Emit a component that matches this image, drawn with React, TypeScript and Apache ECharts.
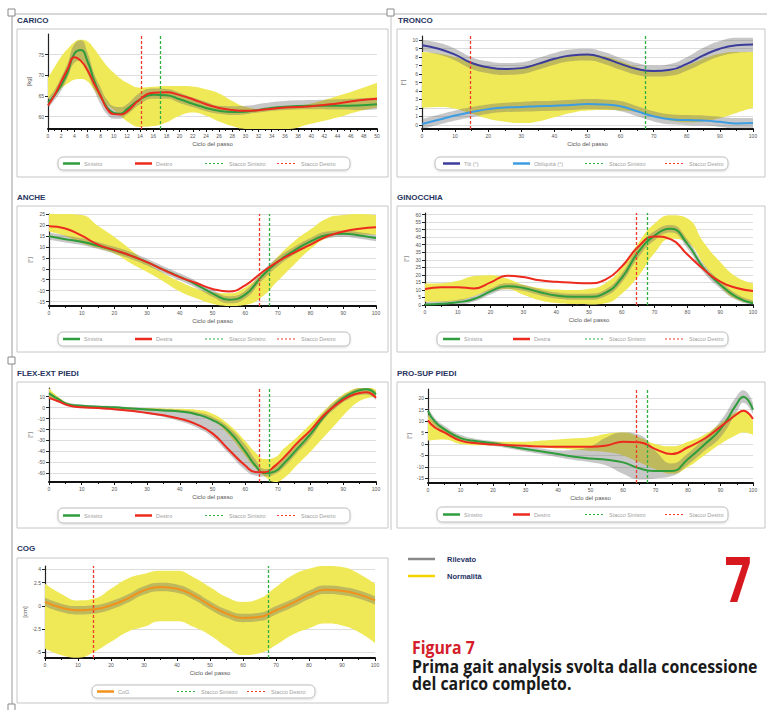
import React, { useEffect, useRef } from "react";
import * as echarts from "echarts";

// ---------------- DATA ----------------
// shared gait-cycle sample positions (% of the cycle)
const pct = [0, 5, 10, 15, 20, 25, 30, 35, 40, 45, 50, 55, 60, 65, 70, 75, 80, 85, 90, 95, 100];

// CARICO (kg) – x axis 0..50
const caricoX = [0, 1, 2, 3, 4, 5, 6, 7, 8, 9, 10, 11, 12, 14, 16, 18, 20, 22, 24, 26, 28, 30, 33, 36, 40, 44, 47, 50];
const caricoSin = [63.4, 65.2, 67.6, 70.8, 75.2, 76.1, 73.4, 68.8, 65, 62.2, 60.9, 60.7, 61.8, 64.2, 65.3, 65.2, 64.2, 63.1, 62.1, 61.4, 61.1, 61.2, 61.9, 62.4, 62.6, 62.6, 62.7, 63];
const caricoDes = [62.7, 65.2, 68.4, 71.6, 74.4, 73.5, 71.2, 68, 65, 61.8, 60.6, 60.5, 61.2, 64.2, 65.8, 65.9, 65.2, 64.2, 63, 62.1, 61.6, 61.4, 61.7, 62.2, 62.5, 63.2, 63.9, 64.3];
const caricoNormHi = [69.4, 72, 74.5, 76.4, 78, 78.6, 78.2, 76.5, 74.3, 72.2, 70.6, 69.2, 68.2, 67, 67.2, 67.4, 67.4, 67.3, 66.6, 65.6, 63.8, 62.4, 61.8, 62.2, 63.2, 65, 66.5, 68.2];
const caricoNormLo = [64.2, 65.4, 66.8, 68, 68.9, 69.1, 68.5, 66.5, 64.2, 62.8, 61.6, 60.2, 58.9, 57.5, 57.7, 58.6, 60.2, 61, 60.2, 58.8, 57.7, 57, 57, 57, 58.3, 59.8, 61.2, 62.2];
const caricoRilLo = [62, 64, 66.3, 69.5, 73, 73.5, 70.5, 66.5, 63, 60.5, 59.5, 59.5, 60.5, 63, 64.3, 64.3, 63.3, 62.3, 61.3, 60.7, 60.4, 60.6, 61.2, 61.6, 61.8, 61.7, 61.6, 61.8];
const caricoRilHi = [64.5, 66.5, 69.5, 73, 77.5, 78.5, 75.5, 70.5, 67, 64, 62.5, 62.3, 63, 65.8, 66.8, 66.7, 65.8, 64.6, 63.6, 62.6, 62.5, 62.6, 63.3, 63.8, 64, 64.2, 64.4, 64.6];
const caricoStacchi = [14.1, 17.1];
const caricoYTicks = [60, 65, 70, 75];

// TRONCO (deg)
const troncoTilt = [9.4, 9.0, 8.3, 7.3, 6.8, 6.6, 6.7, 7.2, 7.8, 8.2, 8.3, 7.9, 7.2, 6.6, 6.35, 6.5, 7.2, 8.2, 9.0, 9.4, 9.5];
const troncoTiltLo = [8.7, 8.3, 7.6, 6.6, 6.1, 5.9, 6.0, 6.5, 7.1, 7.5, 7.6, 7.2, 6.5, 5.9, 5.7, 5.8, 6.4, 7.3, 8.1, 8.5, 8.6];
const troncoTiltHi = [10.0, 9.7, 9.0, 8.0, 7.5, 7.3, 7.4, 7.9, 8.5, 8.9, 9.0, 8.6, 7.9, 7.3, 7.0, 7.2, 8.0, 9.1, 9.9, 10.3, 10.3];
const troncoObl = [0.1, 0.6, 1.1, 1.5, 1.85, 2.05, 2.1, 2.2, 2.25, 2.35, 2.45, 2.4, 2.2, 1.6, 1.0, 0.65, 0.55, 0.5, 0.35, 0.15, 0.2];
const troncoOblLo = [-0.5, 0.0, 0.5, 0.9, 1.3, 1.5, 1.55, 1.6, 1.65, 1.75, 1.85, 1.8, 1.6, 1.0, 0.4, 0.05, -0.05, -0.1, -0.25, -0.45, -0.4];
const troncoOblHi = [0.7, 1.2, 1.7, 2.1, 2.4, 2.6, 2.7, 2.8, 2.85, 2.95, 3.05, 3.0, 2.8, 2.2, 1.6, 1.25, 1.15, 1.1, 0.95, 0.8, 0.8];
const troncoNormHi = [8.6, 8.4, 8.0, 7.4, 6.9, 6.7, 6.8, 7.3, 7.9, 8.2, 8.3, 8.1, 7.5, 6.8, 6.3, 6.4, 7.0, 7.8, 8.4, 8.6, 8.6];
const troncoNormLo = [2.0, 2.1, 1.9, 1.3, 0.7, 0.35, 0.2, 0.4, 0.9, 1.4, 1.7, 1.75, 1.7, 1.5, 1.0, 0.5, 0.3, 0.4, 0.8, 1.4, 2.0];
const troncoStacchi = [14.6, 67.3];
const troncoYTicks = [0, 1, 2, 3, 4, 5, 6, 7, 8, 9, 10];

// ANCHE (deg)
const ancheSin = [14.8, 13.5, 12.3, 10.5, 8.4, 6, 3, -0.4, -3.7, -7.2, -11.2, -14.1, -11.8, -3.6, 3.2, 8.3, 12.5, 15.4, 16, 15.2, 14];
const ancheDes = [19.4, 18.4, 15.1, 11, 8.5, 6, 3, -0.5, -3.8, -6.5, -9.2, -10.4, -7.6, -1.8, 3.3, 7.4, 11, 14.8, 17, 18.3, 18.9];
const ancheNormHi = [25, 25, 24.5, 19.5, 14.5, 8.7, 2.7, -2, -5.8, -9, -10.8, -11.2, -8.5, -2.5, 5.6, 12.6, 18, 23, 24.5, 25, 24.5];
const ancheNormLo = [17, 15, 11.8, 9.5, 7, 2.5, -1.5, -5.8, -10.4, -13.5, -16, -17, -16.5, -13, -5.5, 2, 9, 14, 15.5, 15.5, 15.5];
const ancheRilLo = [13.2, 12, 10.8, 9, 6.9, 4.5, 1.5, -2, -5.3, -8.8, -12.8, -15.8, -13.6, -5.6, 1.2, 6.5, 10.9, 13.8, 14.5, 13.7, 12.5];
const ancheRilHi = [16.5, 15.2, 13.9, 12.1, 10, 7.6, 4.6, 1.2, -2.1, -5.6, -9.6, -12.5, -10, -1.6, 5.2, 10.1, 14.1, 17, 17.5, 16.7, 15.5];
const ancheStacchi = [64.4, 67.4];
const ancheYTicks = [-15, -10, -5, 0, 5, 10, 15, 20, 25];

// GINOCCHIA (deg)
const ginoSin = [0.4, 0.8, 1.8, 4, 9, 12.5, 11.3, 8.5, 6.3, 5.5, 5.5, 8, 18, 35, 46, 50.5, 40.5, 24.3, 13.5, 5.3, 1.1];
const ginoDes = [10.6, 11.7, 11.8, 11, 15, 19.4, 18.5, 16.4, 15.4, 14.8, 14.5, 16.8, 25.5, 38.6, 45.5, 43.5, 33.5, 23.5, 15.5, 11.3, 9.3];
const ginoNormHi = [14.3, 14.5, 16, 19.2, 19.8, 17.5, 13.5, 11.3, 10.2, 9.9, 10.7, 14.5, 24.5, 41, 54, 59.5, 57.4, 41.5, 28.5, 18.5, 14.3];
const ginoNormLo = [2.2, 2.2, 2.8, 6, 9.5, 10.5, 6.8, 3.1, 1.3, 0.6, 0.4, 1.2, 7.5, 19, 34.5, 44, 41.5, 27, 12.5, 3.8, 1.1];
const ginoRilLo = [0, 0, 0.3, 2.3, 7, 10.5, 9.3, 6.5, 4.3, 3.5, 3.5, 5.8, 15, 31.5, 43, 48, 37.5, 21.5, 11, 3.3, 0];
const ginoRilHi = [2, 2.5, 3.5, 6, 11, 14.5, 13.3, 10.5, 8.3, 7.5, 7.5, 10.2, 21, 38.5, 49, 53, 43.5, 27, 16, 7.3, 3];
const ginoStacchi = [64.4, 67.7];
const ginoYTicks = [0, 5, 10, 15, 20, 25, 30, 35, 40, 45, 50, 55, 60];

// FLEX-EXT PIEDI (deg)
const flexX = [0, 3, 6, 10, 15, 20, 25, 30, 35, 40, 45, 50, 55, 60, 63, 66, 69, 72, 76, 80, 84, 88, 92, 95, 97, 100];
const flexSin = [13.1, 7.5, 3, 1.8, 0.9, 0.3, -0.8, -1.6, -2.6, -3.6, -6, -11.3, -21.5, -40, -52.5, -60, -58.5, -50.5, -37.5, -24, -8.7, 4, 12.5, 16, 16.8, 12.2];
const flexDes = [9, 5.6, 2, 0.4, -0.3, -1.5, -2.9, -4.8, -7, -10.2, -15, -23.5, -38.5, -53, -58.8, -59, -53.5, -45, -32, -20.5, -7.1, 3, 10.5, 13.5, 14, 9];
const flexNormHi = [17.8, 9.5, 4, 1.5, 0.7, 0.3, 0, -0.4, -0.7, -1, -1.8, -5.5, -15.5, -30.5, -40.5, -47, -45.5, -37, -26.5, -15, -3, 8, 15.5, 18.5, 19.3, 16.2];
const flexNormLo = [8.4, 5, 2, 0.7, -0.2, -0.9, -1.7, -2.5, -3.2, -4, -5.5, -11.5, -25, -44, -55, -63, -68, -64, -52, -40, -27, -14, -1, 6, 8.5, 10];
const flexRilLo = [8, 5, 1.5, -0.5, -1.2, -2.3, -3.8, -5.8, -8.5, -12.5, -18, -27, -42, -57, -62, -63, -61, -54, -41, -28, -11, 0.5, 8.5, 11.5, 12, 7];
const flexRilHi = [15, 9, 4.5, 3, 2, 1.5, 0.5, -0.2, -1, -2, -4, -8.5, -18, -34, -47, -56, -54, -46, -33, -19.5, -4.5, 7, 14.5, 18, 18.5, 14.5];
const flexStacchi = [64.4, 67.4];
const flexYTicks = [-60, -50, -40, -30, -20, -10, 0, 10];

// PRO-SUP PIEDI (deg)
const proX = [0, 2, 5, 10, 15, 20, 25, 30, 35, 40, 45, 50, 55, 60, 65, 70, 75, 80, 85, 90, 95, 97, 100];
const proSin = [14.5, 10, 6.5, 2.6, 1.2, 0.3, -1, -2.2, -3.3, -4.4, -5.5, -6.3, -6.9, -8, -10.6, -11.8, -11.8, -6.5, -0.3, 6.5, 17.5, 20.6, 15];
const proDes = [10.3, 7.3, 5.1, 1.5, 0.3, -0.2, -0.5, -0.8, -1.1, -1.2, -1.2, -1.2, -0.6, 1, 0.8, -2.2, -4.4, -1.4, 2.3, 7.5, 13, 14.5, 10.9];
const proNormHi = [13, 9.5, 7, 3.2, 1.5, 1, 1, 1, 1.5, 2, 2.5, 3, 4.5, 5, 3, 0, -1, 1, 4, 9, 14, 14.5, 10];
const proNormLo = [1.5, 1.8, 2, 0, -0.5, -0.5, -0.8, -1, -1.5, -2, -2.5, -3, -3.5, -5, -8, -11, -13, -10, -5, 0, 4, 5, 4];
const proRilLo = [12, 8, 5, 1.5, 0, -0.8, -2, -3.3, -4.5, -5.8, -7, -8, -9.5, -13, -15.5, -15, -14, -9, -3, 3, 14, 18, 13];
const proRilHi = [16, 11.5, 8, 4, 2.2, 1.3, 0, -1, -2, -2.8, -2.5, -1, 3, 5, 4, -3, -8.5, -4, 2.5, 10, 21, 23.5, 18];
const proStacchi = [64.1, 67.5];
const proYTicks = [-15, -10, -5, 0, 5, 10, 15, 20];

// COG (cm)
const cogVal = [0.43, -0.2, -0.46, -0.36, 0.07, 0.79, 1.68, 2.04, 1.86, 1.14, 0.07, -0.82, -1.29, -1.18, -0.46, 0.3, 1.2, 1.75, 1.62, 1.25, 0.6];
const cogRilLo = [-0.02, -0.65, -0.91, -0.81, -0.38, 0.34, 1.23, 1.59, 1.41, 0.69, -0.38, -1.27, -1.74, -1.63, -0.91, -0.15, 0.75, 1.3, 1.17, 0.8, 0.15];
const cogRilHi = [0.88, 0.25, -0.01, 0.09, 0.52, 1.24, 2.13, 2.49, 2.31, 1.59, 0.52, -0.37, -0.84, -0.73, -0.01, 0.75, 1.65, 2.2, 2.07, 1.7, 1.05];
const cogNormHi = [2.4, 1.3, 0.6, 0.8, 1.86, 2.93, 3.46, 3.8, 3.8, 3.1, 2.04, 0.96, 0.43, 0.79, 2.04, 3.3, 4, 4.3, 4.2, 3.5, 2.4];
const cogNormLo = [-4.57, -5.3, -5.57, -4.93, -3.86, -2.79, -2.25, -1.64, -1.64, -2.25, -3.14, -4.39, -5.29, -5.1, -4.2, -3.1, -2.4, -1.9, -2.1, -2.8, -4];
const cogStacchi = [14.6, 67.7];
const cogYTicks = [-5, -2.5, 0, 2.5, 4];

// ---------------- STYLE ----------------
const GREEN = "#2f9d3c";
const RED = "#ec2a1e";
const NAVY = "#3c3c9a";
const SKY = "#3d9de2";
const ORANGE = "#f0921c";
const YELLOW = "#efe958";
const GRAY = "rgba(100,100,100,0.36)";
const RED_D = "#ee3b2c";
const GREEN_D = "#2fae42";
const FONT = "Liberation Sans, Arial, sans-serif";

const LEFT_OFF = [5, 77, 147, 219];
const RIGHT_OFF = [6, 76, 148, 228];

const stdItems = (a: string, b: string, ca: string, cb: string) => [
  { color: ca, dashed: false, label: a },
  { color: cb, dashed: false, label: b },
  { color: GREEN_D, dashed: true, label: "Stacco Sinistro" },
  { color: RED_D, dashed: true, label: "Stacco Destro" },
];

const panels: any[] = [
  {
    title: "CARICO", titleX: 17, titleY: 20, frame: [17, 29, 371, 148], grid: [48, 34, 329, 95],
    xMax: 50, xInterval: 2, yMin: 57, yMax: 80, yTicks: caricoYTicks, yName: "[kg]",
    xs: caricoX, norm: [caricoNormLo, caricoNormHi], ril: [[caricoRilLo, caricoRilHi]],
    lines: [{ name: "Sinistro", data: caricoSin, color: GREEN }, { name: "Destro", data: caricoDes, color: RED }],
    stacchi: caricoStacchi, legendBox: [58, 157, 292, 13], legendOff: LEFT_OFF,
    legendItems: stdItems("Sinistro", "Destro", GREEN, RED),
  },
  {
    title: "TRONCO", titleX: 398, titleY: 20, frame: [397, 29, 368, 148], grid: [422, 36, 331, 93],
    xMax: 100, xInterval: 10, yMin: -0.5, yMax: 10.5, yTicks: troncoYTicks, yName: "[°]",
    xs: pct, norm: [troncoNormLo, troncoNormHi], ril: [[troncoTiltLo, troncoTiltHi], [troncoOblLo, troncoOblHi]],
    lines: [{ name: "Tilt", data: troncoTilt, color: NAVY }, { name: "Obliquità", data: troncoObl, color: SKY }],
    stacchi: troncoStacchi, legendBox: [435, 157, 293, 13], legendOff: [8, 78, 150, 230],
    legendItems: stdItems("Tilt (°)", "Obliquità (°)", NAVY, SKY),
  },
  {
    title: "ANCHE", titleX: 17, titleY: 197, frame: [17, 206, 371, 146], grid: [49, 214, 327, 92],
    xMax: 100, xInterval: 10, yMin: -17, yMax: 25, yTicks: ancheYTicks, yName: "[°]",
    xs: pct, norm: [ancheNormLo, ancheNormHi], ril: [[ancheRilLo, ancheRilHi]],
    lines: [{ name: "Sinistra", data: ancheSin, color: GREEN }, { name: "Destra", data: ancheDes, color: RED }],
    stacchi: ancheStacchi, legendBox: [58, 332, 292, 14], legendOff: LEFT_OFF,
    legendItems: stdItems("Sinistra", "Destra", GREEN, RED),
  },
  {
    title: "GINOCCHIA", titleX: 397, titleY: 197, frame: [397, 206, 368, 146], grid: [425, 213, 328, 92],
    xMax: 100, xInterval: 10, yMin: 0, yMax: 61, yTicks: ginoYTicks, yName: "[°]",
    xs: pct, norm: [ginoNormLo, ginoNormHi], ril: [[ginoRilLo, ginoRilHi]],
    lines: [{ name: "Sinistra", data: ginoSin, color: GREEN }, { name: "Destra", data: ginoDes, color: RED }],
    stacchi: ginoStacchi, legendBox: [437, 332, 291, 14], legendOff: RIGHT_OFF,
    legendItems: stdItems("Sinistra", "Destra", GREEN, RED),
  },
  {
    title: "FLEX-EXT PIEDI", titleX: 17, titleY: 373, frame: [17, 382, 371, 146], grid: [49, 388, 327, 94],
    xMax: 100, xInterval: 10, yMin: -68, yMax: 18, yTicks: flexYTicks, yName: "[°]",
    xs: flexX, norm: [flexNormLo, flexNormHi], ril: [[flexRilLo, flexRilHi]],
    lines: [{ name: "Sinistro", data: flexSin, color: GREEN }, { name: "Destro", data: flexDes, color: RED }],
    stacchi: flexStacchi, legendBox: [58, 508, 292, 15], legendOff: LEFT_OFF,
    legendItems: stdItems("Sinistro", "Destro", GREEN, RED),
  },
  {
    title: "PRO-SUP PIEDI", titleX: 397, titleY: 373, frame: [397, 382, 368, 146], grid: [428, 389, 325, 94],
    xMax: 100, xInterval: 10, yMin: -17, yMax: 24, yTicks: proYTicks, yName: "[°]",
    xs: proX, norm: [proNormLo, proNormHi], ril: [[proRilLo, proRilHi]],
    lines: [{ name: "Sinistro", data: proSin, color: GREEN }, { name: "Destro", data: proDes, color: RED }],
    stacchi: proStacchi, legendBox: [437, 507, 291, 15], legendOff: RIGHT_OFF,
    legendItems: stdItems("Sinistro", "Destro", GREEN, RED),
  },
  {
    title: "COG", titleX: 17, titleY: 548, frame: [17, 558, 371, 145], grid: [45, 566, 330, 92],
    xMax: 100, xInterval: 10, yMin: -5.6, yMax: 4.3, yTicks: cogYTicks, yName: "[cm]",
    xs: pct, norm: [cogNormLo, cogNormHi], ril: [[cogRilLo, cogRilHi]],
    lines: [{ name: "CoG", data: cogVal, color: ORANGE }],
    stacchi: cogStacchi, legendBox: [92, 685, 223, 13], legendOff: [5, 85, 155],
    legendItems: [
      { color: ORANGE, dashed: false, label: "CoG" },
      { color: GREEN_D, dashed: true, label: "Stacco Sinistro" },
      { color: RED_D, dashed: true, label: "Stacco Destro" },
    ],
  },
];

// ---------------- OPTION ----------------
function band(i: number, key: string, xs: number[], lo: number[], hi: number[], color: string, z: number) {
  const base: any = {
    type: "line", xAxisIndex: i, yAxisIndex: i, stack: key, stackStrategy: "all",
    symbol: "none", showSymbol: false, smooth: 0.5, silent: true, z,
    lineStyle: { width: 0, opacity: 0 }, encode: { x: 1, y: 0 },
  };
  return [
    { ...base, name: key + "_lo", data: xs.map((x, k) => [lo[k], x]) },
    { ...base, name: key, data: xs.map((x, k) => [hi[k] - lo[k], x]), areaStyle: { color, opacity: 1 } },
  ];
}

function stacco(i: number, x: number, yMin: number, color: string) {
  return {
    type: "line", name: "stacco", xAxisIndex: i, yAxisIndex: i, z: 4, silent: true,
    symbol: "none", showSymbol: false, data: [[x, yMin]],
    lineStyle: { color, width: 0, opacity: 0 },
    markLine: {
      silent: true, symbol: ["none", "none"], label: { show: false },
      lineStyle: { color, type: [3, 2], width: 1.3, opacity: 1 },
      emphasis: { disabled: true },
      data: [{ xAxis: x }],
    },
  };
}

const txt = (x: number, y: number, text: string, extra: any) => ({
  type: "text", x, y,
  style: { text, align: "left", verticalAlign: "middle", textAlign: "left", textVerticalAlign: "middle", fontFamily: FONT, ...extra },
});

function buildOption() {
  const grid: any[] = [];
  const xAxis: any[] = [];
  const yAxis: any[] = [];
  const series: any[] = [];
  const elements: any[] = [];

  // page decorations
  elements.push({ type: "line", shape: { x1: 12, y1: 14, x2: 767, y2: 14 }, style: { stroke: "#b0b0b0", lineWidth: 1 } });
  elements.push({ type: "line", shape: { x1: 12, y1: 14, x2: 12, y2: 710 }, style: { stroke: "#9a9a9a", lineWidth: 1 } });
  elements.push({ type: "line", shape: { x1: 391, y1: 14, x2: 391, y2: 530 }, style: { stroke: "#c4c4c4", lineWidth: 1 } });
  [[8, 9], [387, 9], [8, 357], [8, 704]].forEach(([x, y]) =>
    elements.push({ type: "rect", shape: { x, y, width: 7, height: 7 }, style: { fill: "#fff", stroke: "#888", lineWidth: 1 } })
  );

  panels.forEach((p, i) => {
    const [gl, gt, gw, gh] = p.grid;
    grid.push({ left: gl, top: gt, width: gw, height: gh });
    xAxis.push({
      gridIndex: i, type: "value", min: 0, max: p.xMax, interval: p.xInterval,
      axisLine: { onZero: false, lineStyle: { color: "#111", width: 2 } },
      axisTick: { show: true, length: 3, lineStyle: { color: "#111", width: 1 } },
      minorTick: { show: true, splitNumber: 2, length: 2, lineStyle: { color: "#111", width: 1 } },
      axisLabel: { fontSize: 5, color: "#555", margin: 4, fontFamily: FONT },
      splitLine: { show: false },
      name: "Ciclo del passo", nameLocation: "middle", nameGap: 12,
      nameTextStyle: { fontSize: 6, color: "#555", fontFamily: FONT },
    });
    yAxis.push({
      gridIndex: i, type: "value", min: p.yMin, max: p.yMax,
      axisLine: { show: true, onZero: false, lineStyle: { color: "#222", width: 1.2 } },
      axisTick: { show: true, length: 3, customValues: p.yTicks, lineStyle: { color: "#222" } },
      axisLabel: { customValues: p.yTicks, fontSize: 5, color: "#555", margin: 4, fontFamily: FONT },
      splitLine: { show: true, lineStyle: { color: "#dddddd", width: 1 } },
      name: p.yName, nameLocation: "middle", nameGap: 16, nameRotate: 90,
      nameTextStyle: { fontSize: 6, color: "#555", fontFamily: FONT },
    });

    series.push(...band(i, `norm${i}`, p.xs, p.norm[0], p.norm[1], YELLOW, 1));
    p.ril.forEach((r: number[][], k: number) => series.push(...band(i, `ril${i}_${k}`, p.xs, r[0], r[1], GRAY, 2)));
    p.lines.forEach((l: any) => {
      series.push({
        type: "line", name: l.name, xAxisIndex: i, yAxisIndex: i,
        data: p.xs.map((x: number, j: number) => [x, l.data[j]]),
        symbol: "none", showSymbol: false, smooth: 0.5, silent: true, z: 3,
        lineStyle: { color: l.color, width: 2 },
      });
    });
    series.push(stacco(i, p.stacchi[0], p.yMin, RED_D));
    series.push(stacco(i, p.stacchi[1], p.yMin, GREEN_D));

    // frame + title
    const [fx, fy, fw, fh] = p.frame;
    elements.push({ type: "rect", shape: { x: fx, y: fy, width: fw, height: fh }, style: { fill: "none", stroke: "#c6c6c6", lineWidth: 1 }, z: -1 });
    elements.push(txt(p.titleX, p.titleY, p.title, { fill: "#27345e", fontSize: 8, fontWeight: "bold" }));

    // legend box
    const [lx, ly, lw, lh] = p.legendBox;
    elements.push({ type: "rect", shape: { x: lx, y: ly, width: lw, height: lh, r: 5 }, style: { fill: "#fff", stroke: "#bdbdbd", lineWidth: 1, shadowBlur: 2, shadowColor: "rgba(0,0,0,0.15)", shadowOffsetY: 1 } });
    const cy = ly + lh / 2;
    p.legendItems.forEach((it: any, k: number) => {
      const x0 = lx + p.legendOff[k];
      const len = it.dashed ? 20 : 17;
      elements.push({
        type: "line", shape: { x1: x0, y1: cy, x2: x0 + len, y2: cy },
        style: { stroke: it.color, lineWidth: it.dashed ? 1.2 : 2.5, lineDash: it.dashed ? [2, 2] : null },
      });
      elements.push(txt(x0 + len + 4, cy, it.label, { fill: "#a0a0a0", fontSize: 5.5 }));
    });
  });

  // global legend Rilevato / Normalità
  elements.push({ type: "line", shape: { x1: 408, y1: 559, x2: 435, y2: 559 }, style: { stroke: "#8a8a8a", lineWidth: 2.5 } });
  elements.push(txt(447, 559, "Rilevato", { fill: "#1f3366", fontSize: 7.5, fontWeight: "bold" }));
  elements.push({ type: "line", shape: { x1: 408, y1: 576, x2: 435, y2: 576 }, style: { stroke: "#f3d400", lineWidth: 2.5 } });
  elements.push(txt(447, 576, "Normalità", { fill: "#1f3366", fontSize: 7.5, fontWeight: "bold" }));

  // big number + caption
  elements.push({ type: "text", x: 738, y: 578, scaleX: 0.75, style: { text: "7", fill: "#d7191f", fontSize: 62, fontWeight: "bold", fontFamily: "Open Sans", align: "center", verticalAlign: "middle", textAlign: "center", textVerticalAlign: "middle" } });
  elements.push({ type: "text", x: 412, y: 647, scaleX: 0.88, style: { text: "Figura 7", fill: "#d4202a", fontSize: 18, fontWeight: "bold", fontFamily: "Open Sans", align: "left", verticalAlign: "middle", textAlign: "left", textVerticalAlign: "middle" } });
  elements.push({ type: "text", x: 412, y: 666, scaleX: 0.935, style: { text: "Prima gait analysis svolta dalla concessione", fill: "#1a1a1a", fontSize: 17, fontWeight: "bold", fontFamily: "Open Sans", align: "left", verticalAlign: "middle", textAlign: "left", textVerticalAlign: "middle" } });
  elements.push({ type: "text", x: 412, y: 683, scaleX: 0.935, style: { text: "del carico completo.", fill: "#1a1a1a", fontSize: 17, fontWeight: "bold", fontFamily: "Open Sans", align: "left", verticalAlign: "middle", textAlign: "left", textVerticalAlign: "middle" } });

  return {
    animation: false,
    backgroundColor: "#ffffff",
    textStyle: { fontFamily: FONT },
    grid, xAxis, yAxis, series,
    graphic: { elements },
  };
}

export default function App() {
  const ref = useRef<HTMLDivElement>(null);
  useEffect(() => {
    const chart = echarts.init(ref.current as HTMLDivElement, undefined, { renderer: "svg" });
    chart.setOption(buildOption() as any);
    return () => chart.dispose();
  }, []);
  return <div ref={ref} style={{ position: "absolute", left: 0, top: 0, width: 767, height: 710, background: "#fff" }} />;
}
